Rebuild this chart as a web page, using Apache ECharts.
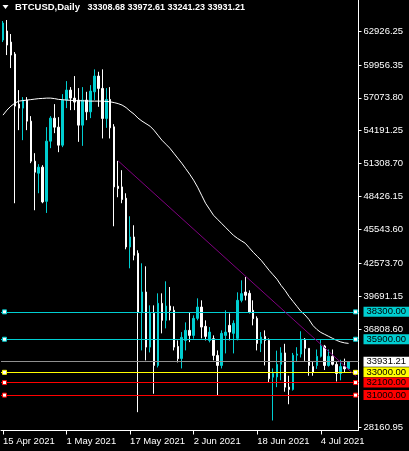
<!DOCTYPE html>
<html><head><meta charset="utf-8">
<script src="https://cdn.jsdelivr.net/npm/echarts@6/dist/echarts.min.js"></script>
<style>html,body{margin:0;padding:0;background:#000;}#c{width:409px;height:451px;}</style>
</head><body><div id="c"></div>
<script>
// ---- data ----
const startDate = [2021, 3, 15];   // 15 Apr 2021 (UTC, month 0-based)
const numCategories = 90;          // includes 2 empty days at the right
const opens  = [62136,62926,61960,60907,56518,56166,56869,55025,51513,50460,50987,47990,53269,55288,54498,52918,56869,57746,57044,56869,54674,56869,55841,57597,58976,57896,55262,56930,54525,49319,49257,48265,43990,44868,43437,38284,40040,35211,38170,33604,39048,37556,38810,38433,35272,34219,35799,36678,36239,37731,38723,37029,35799,35948,34482,33604,36239,37117,36415,35975,39311,40040,39926,38433,37731,35536,36151,35799,32577,32600,33700,34700,31700,31500,34500,34600,35900,35100,33500,33600,34400,35300,33600,34400,33700,32900,33500,33308.68];
const highs  = [63804,63892,62663,61082,57746,57132,57132,55464,52216,51250,51162,54498,55464,56518,55376,57395,58536,58010,58976,57922,58010,57597,58185,59564,59353,59564,57922,58010,54762,51540,50723,48700,46685,45895,43700,42559,42296,38872,38872,39926,39926,40979,40479,38784,35799,36528,37380,38284,37995,39487,39311,37556,36968,36239,34921,36678,38433,38170,37556,40014,41067,41355,40189,39311,37907,36528,36678,35975,33341,34900,35200,35500,32700,34700,35200,36600,36000,35100,33900,35000,35900,35400,35000,35000,33900,34100,34200,33972.61];
const lows   = [61960,60819,59678,47826,54235,53357,54235,51338,47212,48704,47826,46974,52655,53972,52304,52743,56166,55991,55991,53208,52856,55113,55288,56869,56280,53506,54437,53506,45807,48353,47826,43788,42120,42822,29504,34921,34044,34746,31120,33428,36415,36854,37556,34921,33868,33341,34921,35650,35948,37556,35975,35799,35623,34044,30971,33341,34658,35799,34658,35799,39136,39311,38170,37117,34921,34773,33604,32112,28776,31700,32300,31300,30200,31400,33900,34300,34000,32700,32700,33300,34300,33200,33500,33600,32200,32300,33000,33241.23];
const closes = [63628,61697,60819,56342,56166,56869,55025,51513,50548,50987,47940,53269,55288,54498,52918,56869,57746,57044,56693,54674,56869,55841,57659,58976,57896,55262,56930,54437,49257,49116,48151,43990,44868,43261,38284,40040,35211,38170,33604,39048,37556,38810,38433,35211,34193,36063,36678,36239,37731,38723,36968,36151,36528,34482,33604,36415,36528,36528,37293,39311,39899,39750,38284,37703,35536,36089,35799,32436,32902,33700,34700,31700,31500,34500,34600,35900,35100,33600,33000,34400,35300,33600,34400,33700,32900,33500,33300,33931.21];
const maValues = [55552,55991,56342,56605,56781,56825,56868,56912,56956,57000,57018,57044,57044,57000,56930,56904,56868,56851,56825,56816,56807,56798,56781,56781,56781,56781,56755,56720,56649,56561,56430,56210,55903,55639,55288,55025,54805,54586,54235,53796,53357,53006,52655,52216,51777,51338,50855,50372,49845,49231,48528,47826,47299,46773,46421,46070,45719,45368,45017,44753,44534,44315,43920,43524,43173,42822,42383,41944,41549,41154,40627,40188,39662,39223,38784,38345,38038,37642,37116,36765,36501,36326,36150,35974,35798,35667,35579,35535];
const yTickValues = [62926.25,59956.35,57073.80,54191.25,51308.70,48426.15,45543.60,42573.70,39691.15,36808.60,28160.95];
const xTickLabels = ['15 Apr 2021','1 May 2021','17 May 2021','2 Jun 2021','18 Jun 2021','4 Jul 2021'];
const levelValues = [38300, 35900, 33000, 32100, 31000];
const levelColors = ['#00CED1','#00CED1','#FFFF00','#FF0000','#FF0000'];
const bidPrice = 33931.21;
const trendStartIndex = 29, trendStartValue = 51540;
const trendEndIndex = 89, trendEndValue = 32620;
const headerName = 'BTCUSD,Daily';
const headerOHLC = ['33308.68','33972.61','33241.23','33931.21'];

// ---- build ----
const MON = ['Jan','Feb','Mar','Apr','May','Jun','Jul','Aug','Sep','Oct','Nov','Dec'];
const cats = [];
for (let i = 0; i < numCategories; i++) {
  const d = new Date(Date.UTC(startDate[0], startDate[1], startDate[2] + i));
  cats.push(d.getUTCDate() + ' ' + MON[d.getUTCMonth()] + ' ' + d.getUTCFullYear());
}
const candleData = opens.map((o, i) => [o, closes[i], lows[i], highs[i]]);
const FONT = 'Liberation Sans';
const CYAN = '#00CED1';
const showTick = (i, v) => xTickLabels.indexOf(v) >= 0;

const levelLines = levelValues.map((v, k) => ({
  yAxis: v,
  lineStyle: {color: levelColors[k], width: 1, type: 'solid'},
  label: {show: true, position: 'end', distance: 5, formatter: v.toFixed(2),
    backgroundColor: levelColors[k], color: '#000', fontFamily: FONT, fontSize: 9.5,
    lineHeight: 10, padding: [0, 3, 0, 3]}
}));
levelLines.push({
  yAxis: bidPrice,
  lineStyle: {color: '#909090', width: 1, type: 'solid'},
  label: {show: true, position: 'end', distance: 5, formatter: bidPrice.toFixed(2),
    backgroundColor: '#ffffff', color: '#000', fontFamily: FONT, fontSize: 9.5,
    lineHeight: 10, padding: [0, 3, 0, 3]}
});
levelLines.push([
  {coord: [cats[trendStartIndex], trendStartValue],
   lineStyle: {color: '#800080', width: 1, type: 'solid'}, label: {show: false}},
  {coord: [cats[trendEndIndex], trendEndValue]}
]);

const squares = [];
levelValues.forEach((v, k) => {
  squares.push({coord: [cats[0], v], symbolOffset: [1.5, 0], itemStyle: {color: '#fff', borderColor: levelColors[k], borderWidth: 1}});
  squares.push({coord: [cats[numCategories - 1], v], symbolOffset: [-1, 0], itemStyle: {color: '#fff', borderColor: levelColors[k], borderWidth: 1}});
});

const chart = echarts.init(document.getElementById('c'), null, {renderer: 'canvas'});
chart.setOption({
  backgroundColor: '#000',
  animation: false,
  textStyle: {fontFamily: FONT},
  title: {
    left: 15, top: 2, padding: 0,
    text: '{n|' + headerName + '}{v|   ' + headerOHLC.join(' ') + '}',
    textStyle: {
      rich: {
        n: {color: '#fff', fontFamily: FONT, fontSize: 9.5, lineHeight: 11},
        v: {color: '#fff', fontFamily: FONT, fontSize: 9, lineHeight: 11}
      }
    }
  },
  graphic: [{type: 'polygon', shape: {points: [[2.5, 5], [8.5, 5], [5.5, 9]]}, style: {fill: '#fff'}, silent: true}],
  grid: {left: -1.5, right: 50.5, top: 0, bottom: 20.5, containLabel: false},
  xAxis: {
    type: 'category', data: cats, boundaryGap: true,
    axisLine: {show: true, lineStyle: {color: '#fff', width: 1}},
    axisTick: {show: true, alignWithLabel: true, interval: showTick, length: 4, lineStyle: {color: '#fff'}},
    axisLabel: {show: true, interval: showTick, color: '#fff', fontFamily: FONT, fontSize: 9.5, align: 'left', margin: 6},
    splitLine: {show: false}
  },
  yAxis: {
    type: 'value', position: 'right', min: 27898, max: 65647,
    axisLine: {show: true, lineStyle: {color: '#fff', width: 1}},
    axisTick: {show: true, length: 3, customValues: yTickValues, lineStyle: {color: '#fff'}},
    axisLabel: {show: true, customValues: yTickValues, formatter: v => v.toFixed(2), color: '#fff', fontFamily: FONT, fontSize: 9.5, margin: 5},
    splitLine: {show: false}
  },
  series: [
    {
      type: 'candlestick', data: candleData, barWidth: 2, silent: true,
      itemStyle: {color: CYAN, borderColor: CYAN, color0: '#fff', borderColor0: '#fff', borderWidth: 1},
      markLine: {silent: true, symbol: ['none', 'none'], animation: false, data: levelLines},
      markPoint: {silent: true, symbol: 'rect', symbolSize: 4, label: {show: false}, animation: false, data: squares}
    },
    {
      type: 'line', data: maValues, showSymbol: false, symbol: 'none', silent: true,
      lineStyle: {color: '#fff', width: 1}, z: 3
    }
  ]
});
</script>
</body></html>
